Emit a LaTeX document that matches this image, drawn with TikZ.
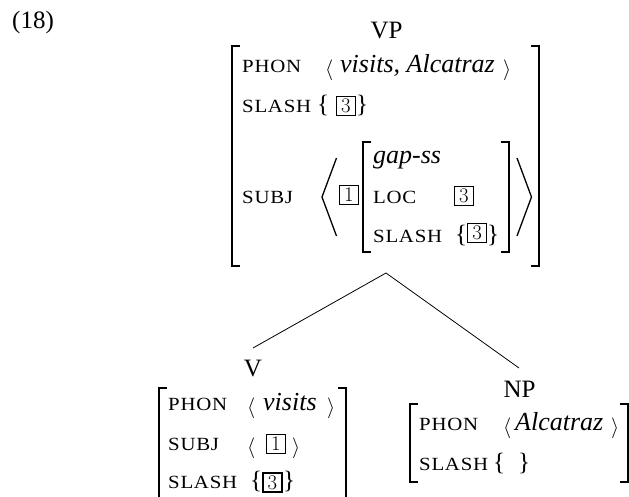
\documentclass[tikz,border=0pt]{standalone}
\usepackage{fontspec}
\setmainfont{Liberation Serif}[ItalicFont={Liberation Serif Italic}]
\newfontfamily\scf[LetterSpace=4,FakeStretch=1.12]{Liberation Serif}
\begin{document}
\begin{tikzpicture}[x=1pt,y=-1pt,
  t/.style={anchor=base west, inner sep=0, font=\fontsize{25}{30}\selectfont},
  it/.style={anchor=base west, inner sep=0, font=\fontsize{26}{30}\selectfont\itshape},
  sc/.style={anchor=base west, inner sep=0, font=\fontsize{18.6}{20}\scf},
  lab/.style={anchor=base, inner sep=0, font=\fontsize{25}{30}\selectfont},
  ang/.style={anchor=base west, inner sep=0, font=\fontsize{20.74}{24}\selectfont},
  tag/.style={draw, line width=1.9pt, minimum size=19pt, inner sep=0, font=\fontsize{20.74}{20}\selectfont},
  brk/.style={line width=1.6pt},
  bigang/.style={line width=1.3pt},
  tree/.style={line width=0.8pt}]
\useasboundingbox (0,0) rectangle (629,496);
\clip (0,0) rectangle (629,496);
\node[t] (ex) at (12,28.5) {(18)};
% VP
\node[lab] (vp) at (386.5,38) {VP};
\draw[brk] (240,46) -- (232,46) -- (232,266) -- (240,266);
\draw[brk] (531,46) -- (539,46) -- (539,266) -- (531,266);
\node[sc] (p1) at (242,72) {PHON};
\node[ang] (p1l) at (325,75) {$\langle$};
\node[it] (p1v) at (340,72) {visits, Alcatraz};
\node[ang] (p1r) at (503,75) {$\rangle$};
\node[sc] (s1) at (242,112) {SLASH};
\node[t] (s1l) at (317,112) {\{};
\node[tag] (s1b) at (346,106) {$3$};
\node[t] (s1r) at (356,112) {\}};
\node[sc] (j1) at (242,203) {SUBJ};
\draw[bigang] (336.5,158) -- (322,197) -- (336.5,236);
\draw[bigang] (517,158) -- (531.5,197) -- (517,236);
\node[tag] (j1b) at (349,195) {$1$};
\draw[brk] (371,142) -- (363,142) -- (363,252) -- (371,252);
\draw[brk] (501,142) -- (509,142) -- (509,252) -- (501,252);
\node[it] (g1) at (373,163) {gap-ss};
\node[sc] (l1) at (373,203) {LOC};
\node[tag] (l1b) at (464,196) {$3$};
\node[sc] (s2) at (373,242) {SLASH};
\node[t] (s2l) at (455,242) {\{};
\node[tag] (s2b) at (477,233) {$3$};
\node[t] (s2r) at (487,242) {\}};
% tree
\coordinate (apex) at (386,273);
\coordinate (vtop) at (253,348);
\coordinate (nptop) at (519,368);
\draw[tree] (vtop) -- (apex) -- (nptop);
% V
\node[lab] (v) at (253,376) {V};
\draw[brk] (167,388) -- (159,388) -- (159,510);
\draw[brk] (338,388) -- (346,388) -- (346,510);
\node[sc] (p2) at (168,410) {PHON};
\node[ang] (p2l) at (247,413) {$\langle$};
\node[it] (p2v) at (263,410) {visits};
\node[ang] (p2r) at (327,413) {$\rangle$};
\node[sc] (j2) at (168,450) {SUBJ};
\node[ang] (j2l) at (247,453) {$\langle$};
\node[tag] (j2b) at (276,444) {$1$};
\node[ang] (j2r) at (292,453) {$\rangle$};
\node[sc] (s3) at (168,488) {SLASH};
\node[t] (s3l) at (250,488) {\{};
\node[tag] (s3b) at (272.5,482.5) {$3$};
\node[t] (s3r) at (283,488) {\}};
% NP
\node[lab] (np) at (519.5,397) {NP};
\draw[brk] (418,404) -- (410,404) -- (410,482) -- (418,482);
\draw[brk] (620,404) -- (628,404) -- (628,482) -- (620,482);
\node[sc] (p3) at (419,430) {PHON};
\node[ang] (p3l) at (503,433) {$\langle$};
\node[it] (p3v) at (515,430) {Alcatraz};
\node[ang] (p3r) at (611,433) {$\rangle$};
\node[sc] (s4) at (419,470) {SLASH};
\node[t] (s4l) at (493,470) {\{};
\node[t] (s4r) at (518,470) {\}};
\end{tikzpicture}
\end{document}
